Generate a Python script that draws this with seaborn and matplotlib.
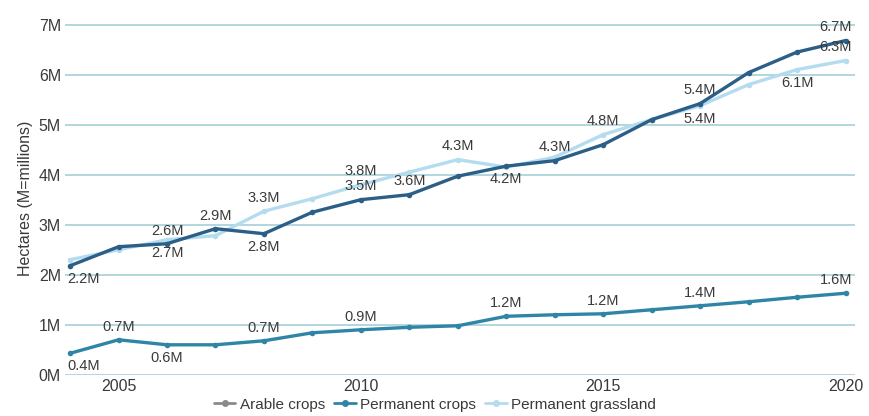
import numpy as np
import pandas as pd
import seaborn as sns
import matplotlib.pyplot as plt

sns.set_theme(style="white")
plt.rcParams['font.family'] = ['Liberation Sans', 'DejaVu Sans']

# Data (millions of hectares)
years = list(range(2004, 2021))
arable = [2.18, 2.56, 2.62, 2.92, 2.82, 3.25, 3.5, 3.6, 3.97, 4.17, 4.28, 4.6, 5.1, 5.42, 6.04, 6.45, 6.68]
permanent = [0.43, 0.7, 0.6, 0.6, 0.68, 0.84, 0.9, 0.95, 0.98, 1.17, 1.2, 1.22, 1.3, 1.38, 1.46, 1.55, 1.63]
grassland = [2.3, 2.5, 2.7, 2.78, 3.27, 3.52, 3.8, 4.05, 4.3, 4.15, 4.35, 4.8, 5.1, 5.38, 5.8, 6.1, 6.28]
series_names = ["Arable crops", "Permanent crops", "Permanent grassland"]
ytick_vals = [0, 1, 2, 3, 4, 5, 6, 7]
xtick_vals = [2005, 2010, 2015, 2020]

# which points get a value label, and whether it sits above (+) or below (-)
label_arable = {2004: -1, 2006: 1, 2007: 1, 2008: -1, 2010: 1, 2011: 1, 2013: -1, 2014: 1, 2017: 1, 2020: 1}
label_permanent = {2004: -1, 2005: 1, 2006: -1, 2008: 1, 2010: 1, 2013: 1, 2015: 1, 2017: 1, 2020: 1}
label_grassland = {2006: -1, 2008: 1, 2010: 1, 2012: 1, 2015: 1, 2017: -1, 2019: -1, 2020: 1}

df = pd.DataFrame({
    "year": years * 3,
    "value": arable + permanent + grassland,
    "series": sum([[n] * len(years) for n in series_names], []),
})

colors = {"Arable crops": "#2b5f87", "Permanent crops": "#2f85a6", "Permanent grassland": "#b3dcef"}

fig, ax = plt.subplots(figsize=(8.7, 4.16), dpi=100)
fig.subplots_adjust(left=0.075, right=0.983, bottom=0.099, top=0.947)

for y in ytick_vals:
    ax.axhline(y, color="#a6cfd7", lw=1.2, zorder=0)

# draw grassland first so the darker lines sit on top
for name in ["Permanent grassland", "Permanent crops", "Arable crops"]:
    sub = df[df.series == name]
    sns.lineplot(data=sub, x="year", y="value", color=colors[name], lw=2.4,
                 marker="o", markersize=4, markeredgewidth=0, ax=ax, label=name,
                 zorder=3 if name != "Permanent grassland" else 2)

txt_kw = dict(fontsize=10.5, color="#3a3a3a", zorder=5)
for vals, labs in [(arable, label_arable), (permanent, label_permanent), (grassland, label_grassland)]:
    for yr, side in labs.items():
        v = vals[years.index(yr)]
        dx = 0
        ha = "center"
        if yr == 2004:
            ha, dx = "left", -2
        elif yr == 2020:
            dx = -7
        ax.annotate(f"{v:.1f}M", (yr, v), xytext=(dx, 9.5 * side), textcoords="offset points",
                    ha=ha, va="center", **txt_kw)

ax.set_xlim(2003.9, 2020.2)
ax.set_ylim(0, 7.05)
ax.set_yticks(ytick_vals)
ax.set_yticklabels([f"{v}M" for v in ytick_vals])
ax.set_xticks(xtick_vals)
ax.tick_params(axis="both", length=0, labelsize=11.5, labelcolor="#3a3a3a", pad=3)
ax.set_xlabel("")
ax.set_ylabel("Hectares (M=millions)", fontsize=11.5, color="#3a3a3a", labelpad=4)
for s in ax.spines.values():
    s.set_visible(False)

ax.get_legend().remove()
handles = [plt.Line2D([], [], color="#8a8a8a", lw=2, marker="o", markersize=4),
           plt.Line2D([], [], color=colors["Permanent crops"], lw=2, marker="o", markersize=4),
           plt.Line2D([], [], color=colors["Permanent grassland"], lw=2, marker="o", markersize=4)]
fig.legend(handles, series_names, loc="center", bbox_to_anchor=(0.5, 0.027), ncol=3, frameon=False,
           fontsize=11, handlelength=1.4, handletextpad=0.3, columnspacing=0.6, labelcolor="#3a3a3a")

fig.savefig("out.png", dpi=100)
